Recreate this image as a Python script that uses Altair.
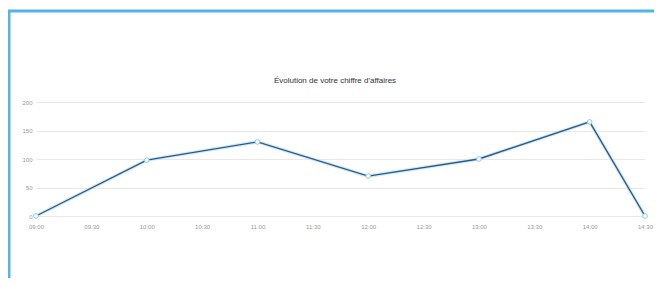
import altair as alt
import pandas as pd

# Data
times = ["09:00", "10:00", "11:00", "12:00", "13:00", "14:00", "14:30"]
revenue = [0, 98, 130, 70, 100, 165, 0]
tick_labels = ["09:00", "09:30", "10:00", "10:30", "11:00", "11:30",
               "12:00", "12:30", "13:00", "13:30", "14:00", "14:30"]
y_ticks = [0, 50, 100, 150, 200]
title_text = "Évolution de votre chiffre d'affaires"

df = pd.DataFrame({"time": times, "value": revenue, "order": list(range(len(times)))})

FONT = "Liberation Sans"

x_enc = alt.X("time:O", scale=alt.Scale(type="point", domain=tick_labels, padding=0),
              axis=alt.Axis(title=None, labelAngle=0, labelFontSize=6, labelColor="#999999",
                            ticks=False, domain=False, labelPadding=7, grid=False, labelFont=FONT))
y_enc = alt.Y("value:Q", scale=alt.Scale(domain=[0, 200], nice=False),
              axis=alt.Axis(title=None, values=y_ticks, labelFontSize=6, labelColor="#999999",
                            ticks=False, domain=False, labelPadding=4, gridColor="#e8e8e8",
                            labelFont=FONT))

base = alt.Chart(df).encode(x=x_enc, y=y_enc, order="order:Q")

glow = base.mark_line(color="#c4e5f8", strokeWidth=3.5, opacity=0.8)
line = base.mark_line(color="#2d5a82", strokeWidth=1.4)
pts = base.mark_point(shape="circle", size=22, filled=True, fill="white",
                      stroke="#8ccbee", strokeWidth=1, opacity=1)

deco = pd.DataFrame({"a": [0]})
top_border = alt.Chart(deco).mark_rule(color="#55b4e6", strokeWidth=3).encode(
    x=alt.value(-28), x2=alt.value(620), y=alt.value(-91))
left_border = alt.Chart(deco).mark_rule(color="#55b4e6", strokeWidth=3).encode(
    x=alt.value(-27), y=alt.value(-92), y2=alt.value(180))

title_df = pd.DataFrame({"label": [title_text]})
title = alt.Chart(title_df).mark_text(fontSize=8, font=FONT, color="#333333",
                                      align="center", baseline="middle").encode(
    x=alt.value(299), y=alt.value(-21), text="label:N")

chart = alt.layer(glow, line, pts, top_border, left_border, title).properties(
    width=609, height=114,
    background="white",
    autosize=alt.AutoSizeParams(type="none"),
    padding={"left": 28, "top": 94, "right": 9, "bottom": 62},
).configure_view(stroke="transparent", strokeWidth=0)

chart.save("out.html", embed_options={"renderer": "svg", "actions": False})
